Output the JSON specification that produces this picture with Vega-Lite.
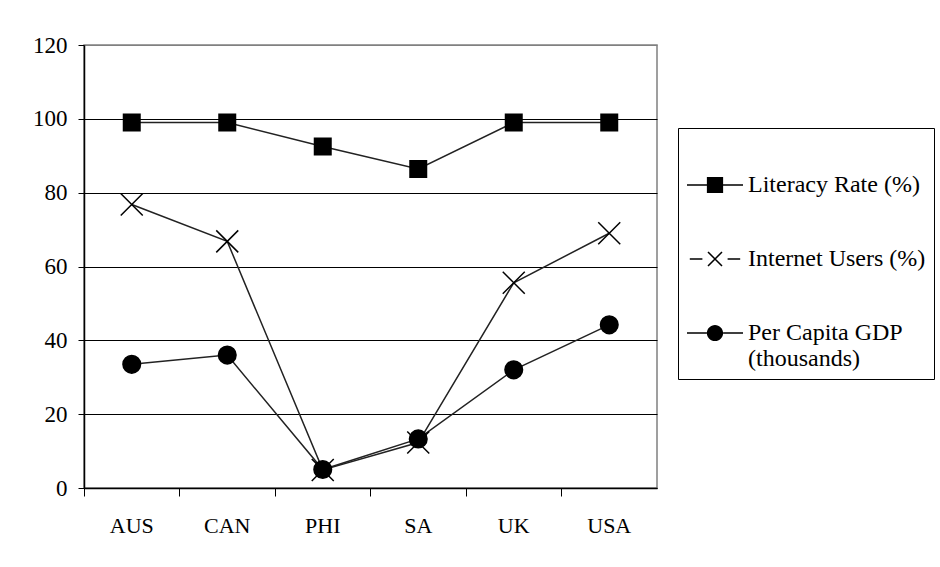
{
  "$schema": "https://vega.github.io/schema/vega-lite/v6.json",
  "autosize": {"type": "none"},
  "width": 573,
  "height": 443,
  "padding": {"left": 84, "top": 45, "right": 283, "bottom": 79},
  "background": "white",
  "config": {
    "font": "Liberation Serif",
    "view": {"stroke": "#808080", "strokeWidth": 1.5},
    "axis": {"labelFont": "Liberation Serif", "labelFontSize": 23, "labelColor": "black", "domainColor": "black", "tickColor": "black", "title": null}
  },
  "data": {
    "values": [
      {"country": "AUS", "series": "Literacy Rate (%)", "value": 99},
      {"country": "CAN", "series": "Literacy Rate (%)", "value": 99},
      {"country": "PHI", "series": "Literacy Rate (%)", "value": 92.5},
      {"country": "SA", "series": "Literacy Rate (%)", "value": 86.4},
      {"country": "UK", "series": "Literacy Rate (%)", "value": 99},
      {"country": "USA", "series": "Literacy Rate (%)", "value": 99},
      {"country": "AUS", "series": "Internet Users (%)", "value": 76.8},
      {"country": "CAN", "series": "Internet Users (%)", "value": 66.8},
      {"country": "PHI", "series": "Internet Users (%)", "value": 4.9},
      {"country": "SA", "series": "Internet Users (%)", "value": 12.3},
      {"country": "UK", "series": "Internet Users (%)", "value": 55.6},
      {"country": "USA", "series": "Internet Users (%)", "value": 69},
      {"country": "AUS", "series": "Per Capita GDP (thousands)", "value": 33.5},
      {"country": "CAN", "series": "Per Capita GDP (thousands)", "value": 36},
      {"country": "PHI", "series": "Per Capita GDP (thousands)", "value": 5},
      {"country": "SA", "series": "Per Capita GDP (thousands)", "value": 13.3},
      {"country": "UK", "series": "Per Capita GDP (thousands)", "value": 32},
      {"country": "USA", "series": "Per Capita GDP (thousands)", "value": 44.2}
    ]
  },
  "encoding": {
    "x": {"field": "country", "type": "nominal", "scale": {"type": "band", "paddingInner": 0, "paddingOuter": 0}},
    "y": {"field": "value", "type": "quantitative", "scale": {"domain": [0, 120]},
      "axis": {"values": [0, 20, 40, 60, 80, 100, 120], "tickSize": 6, "labelPadding": 11, "domainWidth": 1.5, "grid": true,
        "gridColor": {"condition": {"test": "datum.value === 120", "value": "#808080"}, "value": "black"}, "gridWidth": 1}}
  },
  "layer": [
    {
      "mark": {"type": "line", "strokeWidth": 1.5, "stroke": "#222222"},
      "encoding": {
        "x": {"field": "country", "type": "nominal", "scale": {"type": "band", "paddingInner": 0, "paddingOuter": 0},
          "axis": {"orient": "bottom", "labels": false, "bandPosition": 0, "tickSize": 8, "domainWidth": 1.5, "grid": false}},
        "detail": {"field": "series"}
      }
    },
    {
      "mark": {"type": "point", "filled": true, "fill": "black", "stroke": "black", "strokeWidth": 1.5, "size": 0.0001},
      "encoding": {
        "x": {"field": "country", "type": "nominal", "scale": {"type": "band", "paddingInner": 0, "paddingOuter": 0}, "axis": null},
        "shape": {"field": "series", "type": "nominal",
          "scale": {"domain": ["Literacy Rate (%)", "Internet Users (%)", "Per Capita GDP (thousands)"],
            "range": [
              "M-1,-0.027H-0.29V0.027H-1Z M0.29,-0.027H1V0.027H0.29Z M-0.29,-0.29H0.29V0.29H-0.29Z",
              "M-0.9,-0.027H-0.45V0.027H-0.9Z M0.45,-0.027H0.9V0.027H0.45Z M-0.231,-0.269L0.269,0.231L0.231,0.269L-0.269,-0.231Z M-0.269,0.231L0.231,-0.269L0.269,-0.231L-0.231,0.269Z",
              "M-1,-0.027H-0.29V0.027H-1Z M0.29,-0.027H1V0.027H0.29Z M0.29,0A0.29,0.29 0 1,1 -0.29,0A0.29,0.29 0 1,1 0.29,0Z"]},
          "legend": {
            "orient": "none", "legendX": 594, "legendY": 83, "title": " ", "titleFontSize": 12, "titlePadding": 8,
            "strokeColor": "black", "fillColor": "white", "padding": 8,
            "symbolSize": 3136, "symbolStrokeWidth": 1.5, "symbolFillColor": "black", "symbolStrokeColor": "black", "symbolOpacity": 1,
            "labelFont": "Liberation Serif", "labelFontSize": 24, "labelColor": "black", "labelOffset": 4, "labelLimit": 400,
            "rowPadding": 33,
            "labelExpr": "datum.label == 'Per Capita GDP (thousands)' ? ['Per Capita GDP', '(thousands)'] : datum.label"
          }}
      }
    },
    {
      "mark": {"type": "point", "filled": true, "fill": "black", "stroke": "black", "strokeWidth": 1.5, "opacity": 1, "size": 484},
      "encoding": {
        "x": {"field": "country", "type": "nominal", "scale": {"type": "band", "paddingInner": 0, "paddingOuter": 0},
          "axis": {"orient": "bottom", "ticks": false, "domain": false, "labelPadding": 27, "labelFontSize": 22, "labelAngle": 0, "grid": false}},
        "shape": {"field": "series", "type": "nominal", "legend": null,
          "scale": {"domain": ["Literacy Rate (%)", "Internet Users (%)", "Per Capita GDP (thousands)"],
            "range": ["M-0.75,-0.75H0.75V0.75H-0.75Z", "M-1,-1L1,1M-1,1L1,-1", "M0.8,0A0.8,0.8 0 1,1 -0.8,0A0.8,0.8 0 1,1 0.8,0Z"]}}
      }
    }
  ],
  "resolve": {"axis": {"x": "independent"}, "scale": {"shape": "independent"}}
}
